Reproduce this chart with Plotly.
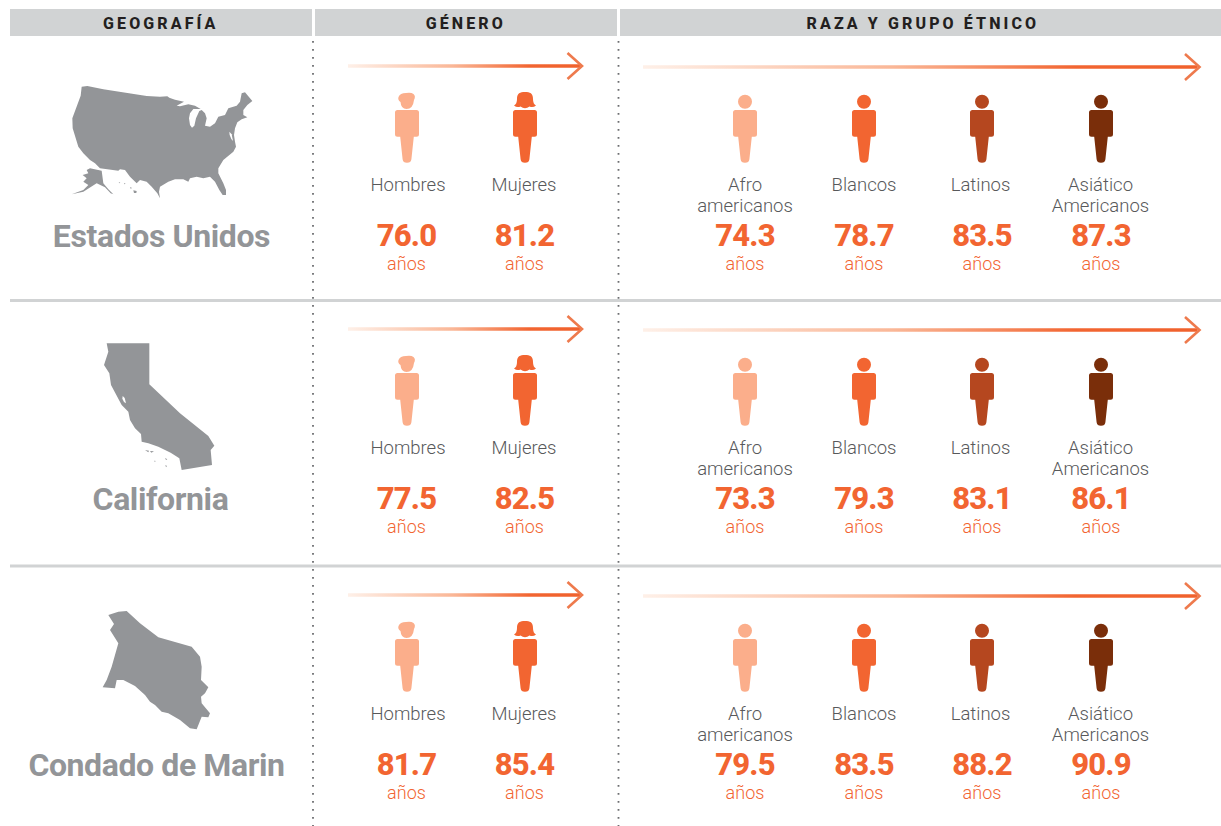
import plotly.graph_objects as go

# ---------- content ----------
HEADERS = ["GEOGRAFÍA", "GÉNERO", "RAZA Y GRUPO ÉTNICO"]
REGIONS = ["Estados Unidos", "California", "Condado de Marin"]
GENDER_LABELS = ["Hombres", "Mujeres"]
RACE_LABELS = ["Afro<br>americanos", "Blancos", "Latinos", "Asiático<br>Americanos"]
GENDER_VALUES = [[76.0, 81.2], [77.5, 82.5], [81.7, 85.4]]
RACE_VALUES = [[74.3, 78.7, 83.5, 87.3], [73.3, 79.3, 83.1, 86.1], [79.5, 83.5, 88.2, 90.9]]
UNIT = "años"

# ---------- map outlines (zoomed-crop units) ----------
US_MAIN = [(65,35),(82,33),(130,43),(200,55),(260,63),(300,65),(322,64),(328,68),(345,74),(372,80),(350,92),(360,94),(385,88),(405,92),(418,100),(422,102),(400,102),(390,115),(387,130),(390,150),(396,158),(403,152),(408,130),(418,108),(425,105),(435,115),(440,130),(435,152),(450,155),(465,145),(475,125),(495,120),(505,100),(530,92),(540,80),(545,55),(555,52),(565,65),(577,78),(562,90),(550,105),(550,120),(562,127),(545,133),(532,142),(525,160),(522,180),(525,200),(528,215),(520,230),(510,238),(490,255),(475,280),(475,295),(490,325),(498,345),(498,360),(488,360),(478,345),(465,320),(450,305),(430,310),(410,305),(390,310),(385,320),(370,313),(345,313),(325,320),(300,335),(297,350),(300,370),(292,355),(275,335),(260,320),(240,315),(230,325),(210,305),(195,285),(180,283),(175,287),(120,280),(105,265),(90,255),(70,235),(55,215),(47,190),(38,160),(37,130),(50,95),(62,62),(65,35)]
US_ALASKA = [(80,285),(90,280),(125,287),(130,325),(145,343),(160,358),(152,355),(135,337),(110,325),(90,337),(70,350),(35,358),(70,345),(85,330),(70,320),(80,310),(68,300),(85,295),(80,285)]
US_HAWAII = [[(176,321),(181,323),(178,325)],[(192,324),(197,326),(193,328)],[(210,336),(216,339),(212,341)],[(220,346),(230,348),(229,354),(222,354)]]
US_BAY = [(508,170),(515,178),(519,198),(514,192),(509,180)]
CA_MAIN = [(80,40),(208,40),(208,163),(300,250),(385,318),(403,347),(392,360),(396,405),(305,420),(298,385),(272,368),(235,350),(205,340),(185,335),(183,312),(165,295),(150,270),(145,245),(125,225),(110,195),(93,165),(88,130),(72,105),(85,65),(80,40)]
CA_ISLANDS = [[(195,360),(207,362),(205,367)],[(210,363),(222,364),(214,368)],[(255,384),(262,388),(258,390)],[(222,392),(228,393),(224,395)],[(256,405),(261,408),(258,412)]]
CA_BAY = [(128,198),(134,204),(138,220),(132,216),(127,206)]
MARIN_MAIN = [(55,45),(85,35),(110,33),(150,70),(205,112),(240,122),(270,130),(305,140),(330,170),(335,200),(333,240),(355,262),(345,280),(333,290),(335,310),(360,340),(355,352),(335,350),(320,388),(300,385),(270,360),(235,340),(215,335),(195,315),(180,305),(165,285),(135,258),(100,240),(80,240),(75,265),(38,262),(50,240),(65,200),(85,130),(60,90),(72,72),(55,45)]

# ---------- styles and layout ----------
W, H = 1221, 826
GRAY = "#939598"; RULE = "#D1D3D4"; TXT = "#58595B"; ORANGE = "#F26531"
SHADES = ["#FBAE8B", "#F26531", "#B5471F", "#7A2E0A"]
ROW_DY = [0, 263, 529]
GENDER_X = [407, 525]
RACE_X = [745, 864, 982, 1101]
GENDER_LABEL_X = [408, 524]
RACE_LABEL_X = [745, 864, 980.5, 1100.5]
NAME_X = [161.5, 160.5, 156.5]
HEADER_X = [161, 466, 923]
FONT = "Roboto"

fig = go.Figure()
shapes, annotations = [], []

def to_xy(pts, ox, oy):
    return [ox + p[0] / 3 for p in pts], [oy + p[1] / 3 for p in pts]

def poly(pts, ox, oy, color):
    x, y = to_xy(pts, ox, oy)
    fig.add_trace(go.Scatter(x=x, y=y, mode="lines", fill="toself", fillcolor=color,
                             line=dict(width=0, color=color), hoverinfo="skip", showlegend=False))

# maps
poly(US_MAIN, 60, 75, GRAY)
poly(US_ALASKA, 60, 75, GRAY)
for p in US_HAWAII:
    poly(p, 60, 75, GRAY)
poly(US_BAY, 60, 75, "white")
poly(CA_MAIN, 80, 330, GRAY)
poly(CA_BAY, 80, 330, "white")
for p in CA_ISLANDS:
    poly(p, 80, 330, GRAY)
poly(MARIN_MAIN, 90, 600, GRAY)

# header bands
for (x0, x1), t, hx in zip([(10, 312), (315, 617), (620, 1221)], HEADERS, HEADER_X):
    shapes.append(dict(type="rect", x0=x0, x1=x1, y0=9, y1=36, fillcolor=RULE, line_width=0, layer="below"))
    annotations.append(dict(x=hx, y=23, text=t, showarrow=False, xanchor="center", yanchor="middle",
                            font=dict(family=FONT, size=16, color="#231F20", weight=800)))

# rules
for y in [300.5, 566]:
    shapes.append(dict(type="line", x0=10, x1=1221, y0=y, y1=y, line=dict(color=RULE, width=3)))
for x in [313, 618.5]:
    shapes.append(dict(type="line", x0=x, x1=x, y0=41, y1=826,
                       line=dict(color="#6D6E71", width=1.8, dash="1.8px,6.2px")))

def arrow(x0, tip, y):
    bar_end = tip - 2
    fig.add_trace(go.Scatter(x=[x0, bar_end, bar_end, x0, x0], y=[y - 1.7, y - 1.7, y + 1.7, y + 1.7, y - 1.7],
                             mode="lines", fill="toself", line=dict(width=0), hoverinfo="skip", showlegend=False,
                             fillgradient=dict(type="horizontal",
                                               colorscale=[[0, "#FEF0E8"], [0.45, "#FAB797"], [0.78, "#F26531"], [1, "#F0612C"]])))
    shapes.append(dict(type="path", path=f"M{tip-14.5},{y-13} L{tip},{y} L{tip-14.5},{y+13}",
                       line=dict(color="#EE7A4D", width=2.6)))

def body(cx, dy):
    t, b = 110 + dy, 136.8 + dy
    return (f"M{cx-9.5},{t} L{cx+9.5},{t} Q{cx+12},{t} {cx+12},{t+2.5} L{cx+12},{b-2.5} Q{cx+12},{b} {cx+9.5},{b} "
            f"L{cx+6.8},{b} L{cx+4.4},{b+22.5} Q{cx+4},{b+26} {cx},{b+26} Q{cx-4},{b+26} {cx-4.4},{b+22.5} "
            f"L{cx-6.8},{b} L{cx-9.5},{b} Q{cx-12},{b} {cx-12},{b-2.5} L{cx-12},{t+2.5} Q{cx-12},{t} {cx-9.5},{t} Z")

def head_round(cx, dy):
    c, r = 101.8 + dy, 7
    return dict(type="circle", x0=cx - r, x1=cx + r, y0=c - r, y1=c + r)

def head_man(cx, dy):
    y = dy
    return (f"M{cx-8.5},{97+y} Q{cx-7},{93+y} {cx-1},{93+y} Q{cx+4},{92+y} {cx+6.5},{94+y} Q{cx+9},{96+y} {cx+7},{100+y} "
            f"Q{cx+6},{109+y} {cx-0.5},{109+y} Q{cx-6},{109+y} {cx-6.5},{102+y} Q{cx-9.5},{100+y} {cx-8.5},{97+y} Z")

def head_woman(cx, dy):
    y = dy
    return (f"M{cx-8},{99+y} C{cx-8},{93+y} {cx-5},{92+y} {cx},{92+y} C{cx+5},{92+y} {cx+8},{93+y} {cx+8},{99+y} "
            f"Q{cx+8},{104+y} {cx+11},{105.5+y} Q{cx+8},{108+y} {cx+4.5},{106.5+y} Q{cx},{110+y} {cx-4.5},{106.5+y} "
            f"Q{cx-8},{108+y} {cx-11},{105.5+y} Q{cx-8},{104+y} {cx-8},{99+y} Z")

name_x, name_y, lab_x, lab_y, lab_t, val_x, val_y, val_t, unit_x, unit_y = [], [], [], [], [], [], [], [], [], []

def add_label(x, base_y, label):
    for k, part in enumerate(label.split("<br>")):
        lab_x.append(x); lab_y.append(base_y + 21 * k); lab_t.append(part)

for r, dy in enumerate(ROW_DY):
    arrow(348, 582, 66 + dy)
    arrow(643, 1199.5, 67 + dy)
    name_x.append(NAME_X[r]); name_y.append(238.5 + dy)
    for i, cx in enumerate(GENDER_X):
        col = SHADES[i]
        shapes.append(dict(type="path", path=body(cx, dy), fillcolor=col, line_width=0))
        path = head_man(cx, dy) if i == 0 else head_woman(cx, dy)
        shapes.append(dict(type="path", path=path, fillcolor=col, line_width=0))
        add_label(GENDER_LABEL_X[i], 186.5 + dy, GENDER_LABELS[i])
        val_x.append(cx - 0.5); val_y.append(238.5 + dy); val_t.append(f"{GENDER_VALUES[r][i]:.1f}")
        unit_x.append(cx - 0.5); unit_y.append(265 + dy)
    for i, cx in enumerate(RACE_X):
        col = SHADES[i]
        shapes.append(dict(type="path", path=body(cx, dy), fillcolor=col, line_width=0))
        shapes.append(dict(**head_round(cx, dy), fillcolor=col, line_width=0))
        add_label(RACE_LABEL_X[i], 186.5 + dy, RACE_LABELS[i])
        val_x.append(cx); val_y.append(238.5 + dy); val_t.append(f"{RACE_VALUES[r][i]:.1f}")
        unit_x.append(cx); unit_y.append(265 + dy)

def text_trace(x, y, t, size, color, weight):
    fig.add_trace(go.Scatter(x=x, y=y, text=t, mode="text", textposition="middle center",
                             textfont=dict(family=FONT, size=size, color=color, weight=weight),
                             hoverinfo="skip", showlegend=False))

text_trace(name_x, name_y, REGIONS, 32, GRAY, 700)
text_trace(lab_x, lab_y, lab_t, 18.5, TXT, 300)
text_trace(val_x, val_y, val_t, 31, ORANGE, 800)
text_trace(unit_x, unit_y, [UNIT] * len(unit_x), 18, ORANGE, 300)

axis = dict(visible=False, fixedrange=True)
fig.update_layout(width=W, height=H, margin=dict(l=0, r=0, t=0, b=0), autosize=False,
                  paper_bgcolor="white", plot_bgcolor="white", shapes=shapes, annotations=annotations,
                  xaxis=dict(range=[0, W], **axis), yaxis=dict(range=[H, 0], **axis))

POST = """
document.body.style.margin='0';document.documentElement.style.overflow='hidden';
document.querySelectorAll('.annotation-text').forEach(function(e){e.style.letterSpacing='3.1px';});
document.querySelectorAll('.textpoint text').forEach(function(e){
  var s=e.textContent;
  if(/^[0-9]+[.][0-9]$/.test(s)){e.style.letterSpacing='-0.8px';}
  else if(/^(Estados|California|Condado)/.test(s)){e.style.letterSpacing='-0.4px';}
});
"""
fig.write_html("out.html", post_script=POST, config=dict(displayModeBar=False))
